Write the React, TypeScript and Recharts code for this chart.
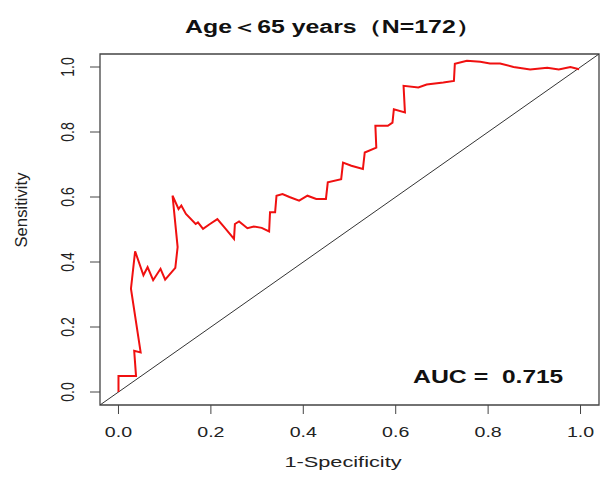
import { LineChart, Line, XAxis, YAxis, ReferenceArea } from "recharts";

// 1 - specificity and sensitivity, in drawing order
const fpr = [
  0, 0, 0.038, 0.034, 0.048, 0.027, 0.036, 0.054, 0.063, 0.075, 0.091, 0.101, 0.123, 0.128,
  0.117, 0.13, 0.136, 0.146, 0.167, 0.172, 0.183, 0.198, 0.214, 0.232, 0.25, 0.252, 0.261,
  0.279, 0.293, 0.31, 0.326, 0.328, 0.339, 0.342, 0.355, 0.37, 0.391, 0.409, 0.428, 0.449,
  0.453, 0.482, 0.486, 0.504, 0.529, 0.533, 0.558, 0.556, 0.583, 0.593, 0.596, 0.62, 0.617,
  0.649, 0.667, 0.703, 0.726, 0.728, 0.754, 0.783, 0.804, 0.826, 0.855, 0.891, 0.928, 0.953,
  0.978, 0.997,
];
const tpr = [
  0, 0.049, 0.049, 0.127, 0.122, 0.318, 0.433, 0.359, 0.384, 0.344, 0.379, 0.346, 0.382, 0.446,
  0.604, 0.563, 0.574, 0.548, 0.517, 0.522, 0.502, 0.517, 0.532, 0.502, 0.471, 0.517, 0.525,
  0.504, 0.509, 0.505, 0.494, 0.553, 0.553, 0.604, 0.609, 0.6, 0.589, 0.604, 0.594, 0.594,
  0.645, 0.655, 0.706, 0.696, 0.686, 0.737, 0.752, 0.819, 0.819, 0.829, 0.87, 0.86, 0.942,
  0.937, 0.946, 0.952, 0.957, 1.01, 1.019, 1.016, 1.011, 1.011, 1.0, 0.992, 0.998, 0.992,
  1.0, 0.993,
];
const diagX = [-0.04, 1.04];
const ticks = [0, 0.2, 0.4, 0.6, 0.8, 1.0];

const roc = fpr.map((x, i) => ({ x, y: tpr[i] }));
const diag = diagX.map((x) => ({ x, y: x }));

const font = "'Liberation Sans', Arial, sans-serif";

const XTick = (props: any) => (
  <text
    transform={`translate(${props.x}, ${props.y + 20.5}) scale(1.4, 1)`}
    textAnchor="middle"
    fontSize={14}
    fill="#222"
    fontFamily={font}
  >
    {props.payload.value.toFixed(1)}
  </text>
);

const YTick = (props: any) => (
  <text
    transform={`translate(${props.x - 14}, ${props.y}) scale(1.35, 1) rotate(-90)`}
    textAnchor="middle"
    fontSize={14}
    fill="#222"
    fontFamily={font}
  >
    {props.payload.value.toFixed(1)}
  </text>
);

export default function App() {
  return (
    <div style={{ position: "absolute", left: 0, top: 0, width: 609, height: 481, background: "#fff" }}>
      <LineChart width={609} height={481} margin={{ top: 54, right: 10, bottom: 16, left: 40 }}>
        <XAxis
          type="number"
          dataKey="x"
          domain={[-0.04, 1.04]}
          ticks={ticks}
          allowDataOverflow
          axisLine={false}
          tickSize={9}
          tickMargin={2}
          tickLine={{ stroke: "#444" }}
          tick={<XTick />}
          height={60}
        />
        <YAxis
          type="number"
          dataKey="y"
          domain={[-0.04, 1.04]}
          ticks={ticks}
          allowDataOverflow
          axisLine={false}
          tickSize={10}
          tickMargin={2}
          tickLine={{ stroke: "#444" }}
          tick={<YTick />}
          width={60}
        />
        <ReferenceArea x1={-0.04} x2={1.04} y1={-0.04} y2={1.04} fill="none" stroke="#444" strokeWidth={1.3} />
        <Line data={diag} dataKey="y" stroke="#333" strokeWidth={1} dot={false} isAnimationActive={false} />
        <Line data={roc} dataKey="y" type="linear" stroke="#f01010" strokeWidth={2} dot={false} isAnimationActive={false} />
      </LineChart>
      <svg width={609} height={481} style={{ position: "absolute", left: 0, top: 0, pointerEvents: "none" }}>
        <text transform="translate(333, 33) scale(1.38, 1)" textAnchor="middle" fontFamily={font} fontWeight="bold" fontSize={18} fill="#111">
          Age＜65 years（N=172）
        </text>
        <text transform="translate(343, 467) scale(1.5, 1)" textAnchor="middle" fontFamily={font} fontSize={14.5} fill="#222">
          1-Specificity
        </text>
        <text transform="translate(27, 210) rotate(-90)" textAnchor="middle" fontFamily={font} fontSize={16.7} fill="#222">
          Sensitivity
        </text>
        <text transform="translate(413, 383) scale(1.38, 1)" fontFamily={font} fontWeight="bold" fontSize={18} fill="#111">
          AUC =
        </text>
        <text transform="translate(502, 383) scale(1.36, 1)" fontFamily={font} fontWeight="bold" fontSize={18} fill="#111">
          0.715
        </text>
      </svg>
    </div>
  );
}
